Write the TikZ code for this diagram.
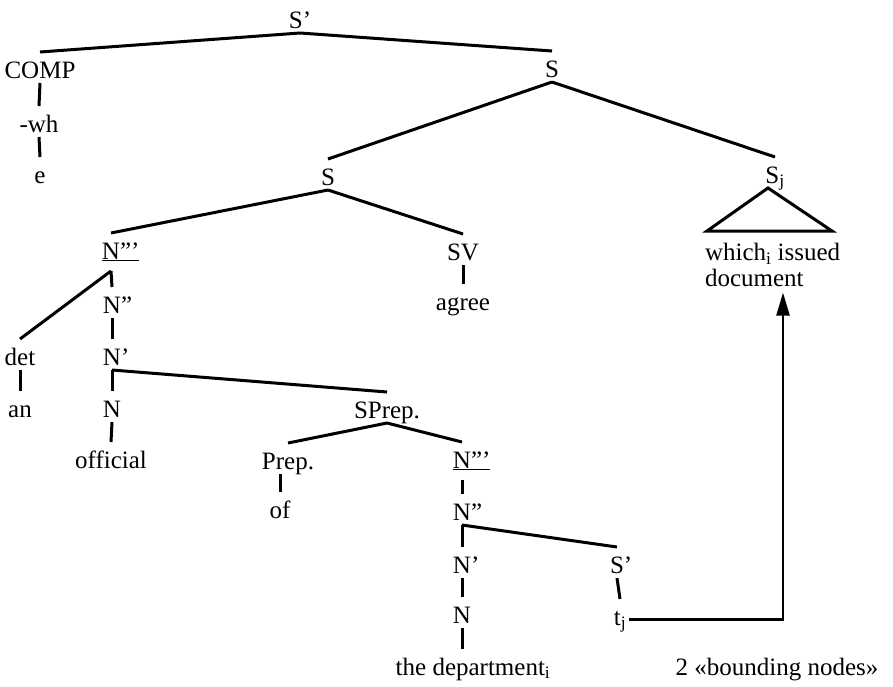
\documentclass[tikz,border=0pt]{standalone}
\usepackage{fontspec}
\setmainfont{Liberation Serif}
\usepackage{tikz}
\usetikzlibrary{arrows.meta}
\usetikzlibrary{calc}
\newcommand{\Nbar}{\rlap{\underline{\phantom{N'''}}}N\rlap{'''}}
\newcommand{\Npp}{N\rlap{''}}
\newcommand{\Np}{N\rlap{'}}

\begin{document}
\begin{tikzpicture}[
  x=1pt, y=-1pt,
  font=\fontsize{25}{26}\selectfont,
  cat/.style={
    anchor=base,
    inner sep=1pt,
    outer sep=2pt,
    text height=23pt,
    text depth=2pt},
  catbar/.style={
    cat,
    text depth=9pt},
  branch/.style={
    line width=3pt
  },
  move/.style={
    line width=2.4pt,
    -{Triangle[length=23pt,width=13pt]}
  },
]
  \useasboundingbox (0,0) rectangle (893,686);

  % Top of the tree
  \node[cat] (sp) at (300,28) {S'};
  \node[cat] (comp) at (40,78) {COMP};
  \node[cat] (wh) at (39,132) {-wh};
  \node[cat] (e) at (40,183) {e};
  \node[cat] (s) at (552,77) {S};
  \node[cat] (ss) at (328,185) {S};
  \node[cat] (sj) at (775,183) {S\textsubscript{j}};

  % Relative clause
  \node[anchor=north west, align=left, inner sep=0pt, outer xsep=0pt, outer ysep=6pt]
      (doc) at (705,237) {which\textsubscript{i} issued\\document};

  % Subject and verb
  \node[catbar] (nbar) at (111,259) {\Nbar};
  \node[cat] (sv) at (463,260) {SV};
  \node[cat] (agree) at (463,310) {agree};
  \node[cat] (npp) at (112,313) {\Npp};
  \node[cat] (det) at (20,365) {det};
  \node[cat] (np) at (112,365) {\Np};
  \node[cat] (an) at (20,417) {an};
  \node[cat] (n) at (112,417) {N};
  \node[cat] (official) at (111,468) {official};

  % Prepositional phrase
  \node[cat] (sprep) at (387,418) {SPrep.};
  \node[cat] (prep) at (288,469) {Prep.};
  \node[cat] (of) at (280,518) {of};
  \node[catbar] (nbarb) at (462,468) {\Nbar};
  \node[cat] (nppb) at (462,520) {\Npp};
  \node[cat] (npb) at (462,573) {\Np};
  \node[cat] (spb) at (617,573) {S\rlap{'}};
  \node[cat] (nb) at (462,623) {N};
  \node[cat] (tj) at (620,625) {t\textsubscript{j}};
  \node[cat] (dept) at (473,675) {the department\textsubscript{i}};
  \node[cat] (bnd) at (777,675) {2 «bounding nodes»};

  % Branches
  \foreach \a/\b in {sp/comp, sp/s, comp/wh, wh/e, s/ss, s/sj,
                     ss/nbar, ss/sv, sv/agree, nbar/det, nbar/npp,
                     npp/np, det/an, np/n, np/sprep, n/official,
                     sprep/prep, sprep/nbarb, nbarb/nppb, nppb/npb,
                     nppb/spb, npb/nb, spb/tj} {
    \draw[branch] (\a.south) -- (\b.north);
  }
  \draw[branch] (of.north |- prep.south) -- (of.north);
  \draw[branch] (nb.south) -- (nb.south |- dept.north);

  % Triangle under S_j
  \draw[branch, line join=miter] ([xshift=-7pt]sj.south) -- ++(-61,43) -- ++(125,0) -- cycle;

  % Movement
  \coordinate (bend) at (783,620);
  \draw[move] ([yshift=-5pt]tj.east) -| (doc.south -| bend);

\end{tikzpicture}
\end{document}
